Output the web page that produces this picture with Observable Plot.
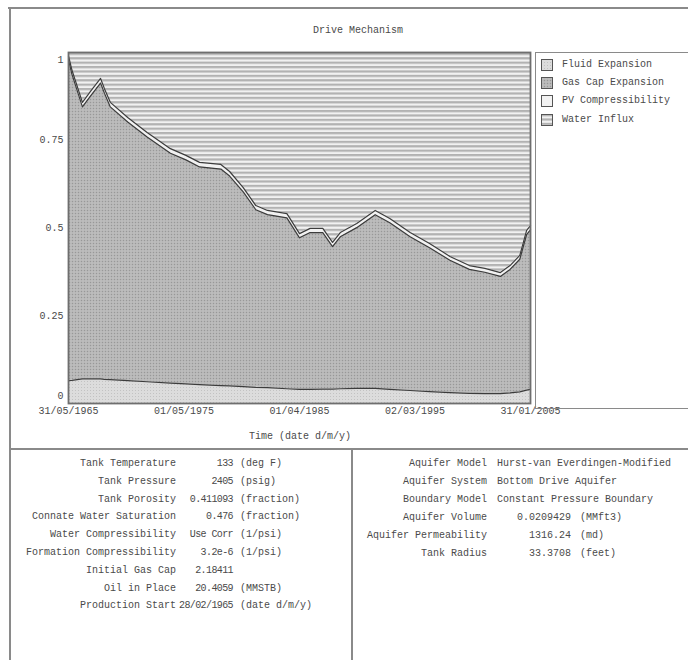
<!DOCTYPE html>
<html>
<head>
<meta charset="utf-8">
<script src="https://cdn.jsdelivr.net/npm/d3@7"></script>
<script src="https://cdn.jsdelivr.net/npm/@observablehq/plot@0.6"></script>
<style>
  body { margin: 0; background: #fff; }
  #wrap { position: relative; width: 688px; height: 660px; overflow: hidden;
          font-family: "Liberation Mono", "DejaVu Sans Mono", monospace; font-size: 10px; color: #4a4a4a; }
  .t { position: absolute; white-space: pre; line-height: 12px; }
  .r { transform: translate(-100%, -50%); }
  .l { transform: translate(0, -50%); }
  .c { transform: translate(-50%, -50%); }
  .ln { position: absolute; background: #8a8a8a; }
</style>
</head>
<body>
<svg width="0" height="0" style="position:absolute">
  <defs>
    <pattern id="pFluid" width="3" height="3" patternUnits="userSpaceOnUse">
      <rect width="3" height="3" fill="#dcdcdc"/>
      <rect width="1" height="1" fill="#c2c2c2"/>
    </pattern>
    <pattern id="pGas" width="3" height="3" patternUnits="userSpaceOnUse">
      <rect width="3" height="3" fill="#b6b6b6"/>
      <rect width="1" height="1" fill="#989898"/>
      <rect x="1.5" y="1.5" width="1" height="1" fill="#cdcdcd"/>
    </pattern>
    <pattern id="pPV" width="3" height="3" patternUnits="userSpaceOnUse">
      <rect width="3" height="3" fill="#f2f2f2"/>
    </pattern>
    <pattern id="pWater" width="6" height="4.4" patternUnits="userSpaceOnUse">
      <rect width="6" height="4.4" fill="#f1f1f1"/>
      <rect width="6" height="2.2" fill="#b2b2b2"/>
    </pattern>
  </defs>
</svg>
<div id="wrap"></div>
<script>
// ---- data ----
const dates = ["1965-05-31","1965-09-15","1966-08-10","1967-04-20","1968-03-01","1968-07-01","1969-01-01",
  "1970-07-01","1972-03-01","1974-03-01","1975-07-01","1976-09-01","1978-07-01","1979-04-01","1980-06-01",
  "1981-07-01","1982-07-01","1984-03-01","1985-04-01","1986-03-01","1987-04-01","1988-02-01","1988-10-01",
  "1990-03-01","1991-10-01","1993-01-01","1994-10-01","1996-06-01","1998-03-01","1999-11-01","2001-03-01",
  "2002-07-01","2003-05-01","2004-03-01","2004-10-01","2005-01-31"];
const fluidExpansion = [0.065,0.066,0.070,0.070,0.070,0.069,0.068,0.065,0.062,0.058,0.056,0.054,0.051,0.050,0.048,
  0.046,0.045,0.042,0.040,0.040,0.041,0.041,0.042,0.043,0.043,0.040,0.037,0.034,0.031,0.029,0.028,
  0.028,0.030,0.033,0.038,0.040];
const gasCapExpansion = [0.913,0.872,0.775,0.806,0.843,0.815,0.777,0.737,0.697,0.655,0.638,0.620,0.617,0.598,0.555,
  0.506,0.493,0.487,0.432,0.447,0.446,0.406,0.433,0.458,0.495,0.475,0.438,0.410,0.377,0.353,0.346,
  0.334,0.352,0.378,0.443,0.455];
const pvCompressibility = [0.012,0.012,0.013,0.013,0.013,0.013,0.013,0.013,0.013,0.013,0.013,0.013,0.013,0.013,0.012,
  0.012,0.012,0.012,0.012,0.012,0.012,0.012,0.012,0.012,0.012,0.012,0.012,0.012,0.011,0.011,0.011,
  0.011,0.011,0.011,0.012,0.012];
const waterInflux = [0.010,0.050,0.142,0.111,0.074,0.103,0.142,0.185,0.228,0.274,0.293,0.313,0.319,0.339,0.385,
  0.436,0.450,0.459,0.516,0.501,0.501,0.541,0.513,0.487,0.450,0.473,0.513,0.544,0.581,0.607,0.615,
  0.627,0.607,0.578,0.507,0.493];

const seriesNames = ["Fluid Expansion", "Gas Cap Expansion", "PV Compressibility", "Water Influx"];
const seriesFills = ["url(#pFluid)", "url(#pGas)", "url(#pPV)", "url(#pWater)"];
const xTickDates = ["1965-05-31", "1975-05-01", "1985-04-01", "1995-03-02", "2005-01-31"];
const yTicksInner = [0.25, 0.5, 0.75];

const chartTitle = "Drive Mechanism";
const xLabel = "Time (date d/m/y)";

const leftLabels = ["Tank Temperature","Tank Pressure","Tank Porosity","Connate Water Saturation",
  "Water Compressibility","Formation Compressibility","Initial Gas Cap","Oil in Place","Production Start"];
const leftValues = ["133","2405","0.411093","0.476","Use Corr","3.2e-6","2.18411","20.4059","28/02/1965"];
const leftUnits = ["(deg F)","(psig)","(fraction)","(fraction)","(1/psi)","(1/psi)","","(MMSTB)","(date d/m/y)"];

const rightLabels = ["Aquifer Model","Aquifer System","Boundary Model","Aquifer Volume","Aquifer Permeability","Tank Radius"];
const rightValues = ["Hurst-van Everdingen-Modified","Bottom Drive Aquifer","Constant Pressure Boundary","0.0209429","1316.24","33.3708"];
const rightUnits = ["","","","(MMft3)","(md)","(feet)"];

// ---- build long table ----
const seriesValues = [fluidExpansion, gasCapExpansion, pvCompressibility, waterInflux];
const long = [];
dates.forEach((d, i) => {
  seriesNames.forEach((s, k) => long.push({date: new Date(d), series: s, value: seriesValues[k][i]}));
});

const fmt = d3.utcFormat("%d/%m/%Y");
const wrap = document.getElementById("wrap");

const chart = Plot.plot({
  width: 688,
  height: 450,
  marginLeft: 68,
  marginRight: 158,
  marginTop: 52,
  marginBottom: 47,
  style: {fontFamily: "Liberation Mono, monospace", fontSize: "10px", color: "#4a4a4a", background: "transparent"},
  x: {type: "utc", domain: [new Date(dates[0]), new Date(dates[dates.length - 1])]},
  y: {domain: [0, 1]},
  color: {domain: seriesNames, range: seriesFills},
  marks: [
    Plot.areaY(long, {x: "date", y: "value", z: "series", fill: "series", order: seriesNames, curve: "linear"}),
    Plot.lineY(long.filter(d => d.series !== "Water Influx"),
      Plot.stackY2({x: "date", y: "value", z: "series", order: seriesNames, stroke: "#3c3c3c", strokeWidth: 1.2})),
    Plot.frame({stroke: "#6e6e6e", strokeWidth: 1.8}),
    Plot.axisY(yTicksInner, {tickSize: 0, tickPadding: 5, label: null, tickFormat: d => String(d)}),
    Plot.axisY([1], {tickSize: 0, tickPadding: 5, label: null, dy: 7, tickFormat: d => String(d)}),
    Plot.axisY([0], {tickSize: 0, tickPadding: 5, label: null, dy: -8, tickFormat: d => String(d)}),
    Plot.axisX(xTickDates.map(d => new Date(d)), {tickSize: 0, tickPadding: 3, label: null, tickFormat: fmt})
  ]
});
chart.style.position = "absolute";
chart.style.left = "0px";
chart.style.top = "0px";
wrap.appendChild(chart);

function el(cls, x, y, text, extra) {
  const e = document.createElement("div");
  e.className = "t " + cls;
  e.style.left = x + "px";
  e.style.top = y + "px";
  e.textContent = text;
  if (extra) Object.assign(e.style, extra);
  wrap.appendChild(e);
  return e;
}
function line(x, y, w, h) {
  const e = document.createElement("div");
  e.className = "ln";
  Object.assign(e.style, {left: x + "px", top: y + "px", width: w + "px", height: h + "px"});
  wrap.appendChild(e);
}

// outer borders / panel dividers
line(8, 7, 680, 2);
line(9, 7, 2, 653);
line(9, 448, 679, 2);
line(351, 448, 2, 212);

// title and x label
el("c", 358, 31, chartTitle);
el("c", 300, 437, xLabel);

// legend box
const lg = document.createElement("div");
Object.assign(lg.style, {position: "absolute", left: "535px", top: "52px", width: "160px", height: "357px",
  border: "1px solid #8a8a8a", borderRight: "none", boxSizing: "border-box"});
wrap.appendChild(lg);
seriesNames.forEach((s, i) => {
  const y = 65 + i * 18.2;
  const ns = "http://www.w3.org/2000/svg";
  const sv = document.createElementNS(ns, "svg");
  sv.setAttribute("width", 12); sv.setAttribute("height", 12);
  Object.assign(sv.style, {position: "absolute", left: "541px", top: (y - 6) + "px"});
  const r = document.createElementNS(ns, "rect");
  r.setAttribute("x", 0.5); r.setAttribute("y", 0.5); r.setAttribute("width", 11); r.setAttribute("height", 11);
  r.setAttribute("fill", seriesFills[i]); r.setAttribute("stroke", "#555");
  sv.appendChild(r);
  wrap.appendChild(sv);
  el("l", 562, y, s);
});

// left parameter table
leftLabels.forEach((s, i) => {
  const y = 464 + i * 17.8;
  el("r", 176, y, s);
  el("r", 233, y, leftValues[i], {letterSpacing: "-0.6px"});
  if (leftUnits[i]) el("l", 240, y, leftUnits[i]);
});

// right parameter table
rightLabels.forEach((s, i) => {
  const y = 464 + i * 18;
  el("r", 487, y, s);
  if (rightUnits[i]) {
    el("r", 571, y, rightValues[i]);
    el("l", 580, y, rightUnits[i]);
  } else {
    el("l", 497, y, rightValues[i]);
  }
});
</script>
</body>
</html>
